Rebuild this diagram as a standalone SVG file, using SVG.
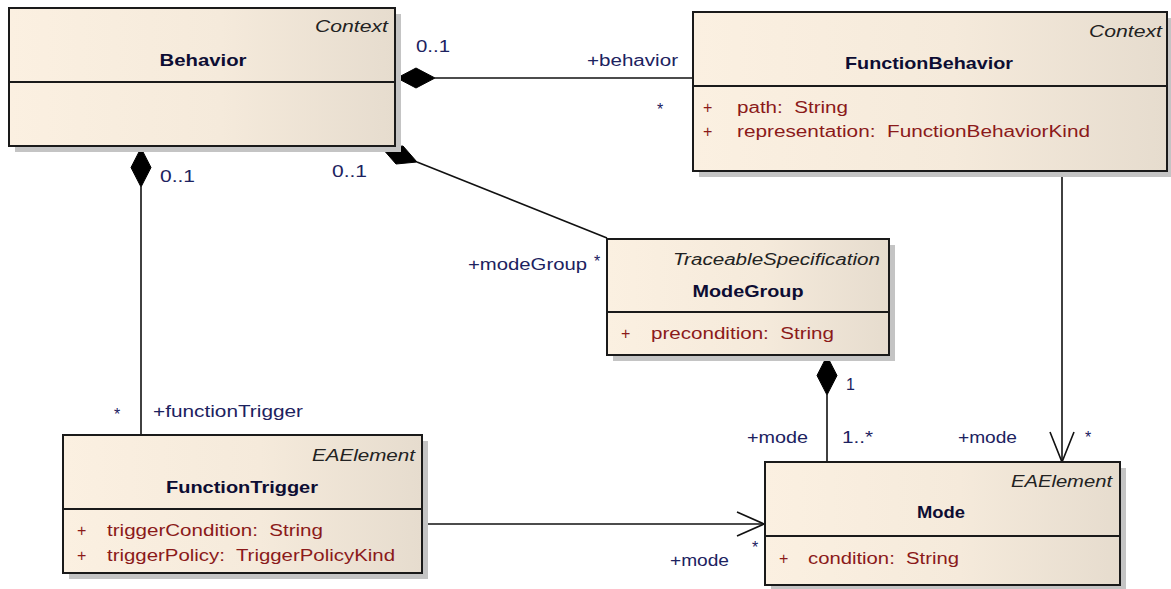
<svg xmlns="http://www.w3.org/2000/svg" width="1171" height="589" viewBox="0 0 1171 589">
<defs>
<linearGradient id="fillGrad" x1="0" y1="0" x2="1" y2="0">
<stop offset="0" stop-color="#FBF0E1"/>
<stop offset="0.55" stop-color="#F5EADB"/>
<stop offset="1" stop-color="#E6DCCE"/>
</linearGradient>
</defs>
<style>
.shadow{fill:#c4c4c4;stroke:none}
.box{fill:url(#fillGrad);stroke:#1a1a1a;stroke-width:2}
.div{stroke:#1a1a1a;stroke-width:2}
.line{stroke:#111;stroke-width:1.6;fill:none}
.dia{fill:#000;stroke:#000;stroke-width:1}
.arr{stroke:#111;stroke-width:1.6;fill:none}
text{font-family:"Liberation Sans",Arial,sans-serif;font-size:16px}
.name{font-weight:bold;fill:#0d0d33;font-size:17px}
.ster{font-style:italic;fill:#222}
.attr{fill:#8b1a1a}
.lbl{fill:#1c2260}
</style>
<g id="connectors">
<line class="line" x1="435" y1="78" x2="693" y2="78"/>
<polygon class="dia" points="397,78 416,68 435,78 416,88"/>
<line class="line" x1="417" y1="162" x2="607" y2="238"/>
<polygon class="dia" points="382,148 403,146 417,162 396,164"/>
<line class="line" x1="141" y1="187" x2="141" y2="435"/>
<polygon class="dia" points="141,148 151,167.5 141,187 131,167.5"/>
<line class="line" x1="827" y1="395" x2="827" y2="462"/>
<polygon class="dia" points="827,356 837,375.5 827,395 817,375.5"/>
<line class="line" x1="1062" y1="171" x2="1062" y2="462"/>
<polyline class="arr" points="1050,432 1062,462 1074,432"/>
<line class="line" x1="422" y1="524" x2="764" y2="524"/>
<polyline class="arr" points="737,512 764,524 737,536"/>
<text class="lbl" x="416" y="52" textLength="34" lengthAdjust="spacingAndGlyphs">0..1</text>
<text class="lbl" x="587" y="66" textLength="91" lengthAdjust="spacingAndGlyphs">+behavior</text>
<text class="lbl" x="660" y="115" text-anchor="middle">*</text>
<text class="lbl" x="160" y="182" textLength="35" lengthAdjust="spacingAndGlyphs">0..1</text>
<text class="lbl" x="332" y="177" textLength="35" lengthAdjust="spacingAndGlyphs">0..1</text>
<text class="lbl" x="468" y="270" textLength="119" lengthAdjust="spacingAndGlyphs">+modeGroup</text>
<text class="lbl" x="597" y="267" text-anchor="middle">*</text>
<text class="lbl" x="117" y="420" text-anchor="middle">*</text>
<text class="lbl" x="153" y="417" textLength="150" lengthAdjust="spacingAndGlyphs">+functionTrigger</text>
<text class="lbl" x="846" y="390">1</text>
<text class="lbl" x="747" y="443" textLength="61" lengthAdjust="spacingAndGlyphs">+mode</text>
<text class="lbl" x="842" y="443" textLength="31" lengthAdjust="spacingAndGlyphs">1..*</text>
<text class="lbl" x="958" y="443" textLength="59" lengthAdjust="spacingAndGlyphs">+mode</text>
<text class="lbl" x="1088" y="443" text-anchor="middle">*</text>
<text class="lbl" x="755" y="553" text-anchor="middle">*</text>
<text class="lbl" x="670" y="566" textLength="59" lengthAdjust="spacingAndGlyphs">+mode</text>
</g>
<g id="Behavior">
<rect class="shadow" x="15" y="14" width="386" height="138"/>
<rect class="box" x="9" y="8" width="386" height="138"/>
<line class="div" x1="9" y1="82" x2="395" y2="82"/>
<text class="ster" x="388" y="32" text-anchor="end" textLength="73" lengthAdjust="spacingAndGlyphs">Context</text>
<text class="name" x="203" y="66" text-anchor="middle" textLength="87" lengthAdjust="spacingAndGlyphs">Behavior</text>
</g>
<g id="FunctionBehavior">
<rect class="shadow" x="699" y="18" width="474" height="159"/>
<rect class="box" x="693" y="12" width="474" height="159"/>
<line class="div" x1="693" y1="86" x2="1167" y2="86"/>
<text class="ster" x="1162" y="37" text-anchor="end" textLength="73" lengthAdjust="spacingAndGlyphs">Context</text>
<text class="name" x="929" y="69" text-anchor="middle" textLength="168" lengthAdjust="spacingAndGlyphs">FunctionBehavior</text>
<text class="attr" x="703" y="113">+</text>
<text class="attr" x="737" y="113" textLength="111" lengthAdjust="spacingAndGlyphs" xml:space="preserve">path:  String</text>
<text class="attr" x="703" y="137">+</text>
<text class="attr" x="737" y="137" textLength="353" lengthAdjust="spacingAndGlyphs" xml:space="preserve">representation:  FunctionBehaviorKind</text>
</g>
<g id="ModeGroup">
<rect class="shadow" x="613" y="245" width="282" height="116"/>
<rect class="box" x="607" y="239" width="282" height="116"/>
<line class="div" x1="607" y1="312" x2="889" y2="312"/>
<text class="ster" x="880" y="265" text-anchor="end" textLength="207" lengthAdjust="spacingAndGlyphs">TraceableSpecification</text>
<text class="name" x="748" y="297" text-anchor="middle" textLength="111" lengthAdjust="spacingAndGlyphs">ModeGroup</text>
<text class="attr" x="621" y="339">+</text>
<text class="attr" x="651" y="339" textLength="183" lengthAdjust="spacingAndGlyphs" xml:space="preserve">precondition:  String</text>
</g>
<g id="FunctionTrigger">
<rect class="shadow" x="69" y="441" width="359" height="138"/>
<rect class="box" x="63" y="435" width="359" height="138"/>
<line class="div" x1="63" y1="509" x2="422" y2="509"/>
<text class="ster" x="415" y="461" text-anchor="end" textLength="103" lengthAdjust="spacingAndGlyphs">EAElement</text>
<text class="name" x="242" y="493" text-anchor="middle" textLength="152" lengthAdjust="spacingAndGlyphs">FunctionTrigger</text>
<text class="attr" x="77" y="536">+</text>
<text class="attr" x="107" y="536" textLength="216" lengthAdjust="spacingAndGlyphs" xml:space="preserve">triggerCondition:  String</text>
<text class="attr" x="77" y="561">+</text>
<text class="attr" x="107" y="561" textLength="288" lengthAdjust="spacingAndGlyphs" xml:space="preserve">triggerPolicy:  TriggerPolicyKind</text>
</g>
<g id="Mode">
<rect class="shadow" x="771" y="468" width="355" height="123"/>
<rect class="box" x="765" y="462" width="355" height="123"/>
<line class="div" x1="765" y1="536" x2="1120" y2="536"/>
<text class="ster" x="1112" y="487" text-anchor="end" textLength="101" lengthAdjust="spacingAndGlyphs">EAElement</text>
<text class="name" x="941" y="518" text-anchor="middle" textLength="48" lengthAdjust="spacingAndGlyphs">Mode</text>
<text class="attr" x="779" y="564">+</text>
<text class="attr" x="808" y="564" textLength="151" lengthAdjust="spacingAndGlyphs" xml:space="preserve">condition:  String</text>
</g>
</svg>
